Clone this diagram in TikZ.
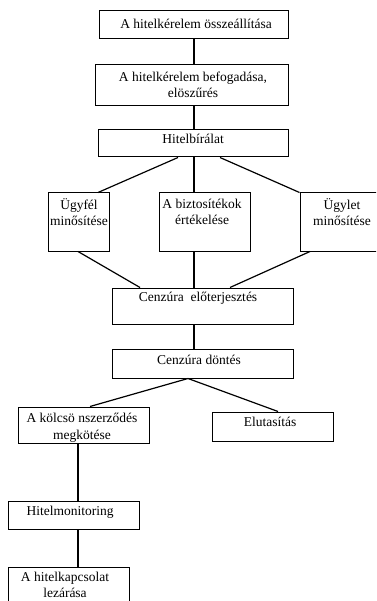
\documentclass[tikz,border=0pt]{standalone}
\usepackage{fontspec}
\setmainfont{Liberation Serif}
\newfontfamily\tnr{Liberation Serif}
\begin{document}
\begin{tikzpicture}[x=1pt,y=-1pt,
  box/.style={draw=black, line width=1pt, rectangle, inner sep=0pt},
  txt/.style={inner sep=0pt, align=center, font=\tnr\fontsize{13.5}{16.5}\selectfont},
  link/.style={draw=black, line width=1.2pt}]
\useasboundingbox (0,0) rectangle (376,601);
\clip (0,0) rectangle (376,601);
% boxes
\node[box, minimum width=189, minimum height=28] (b1) at (193.5,25) {};
\node[box, minimum width=193, minimum height=41] (b2) at (191.5,85.5) {};
\node[box, minimum width=190, minimum height=27] (b3) at (193,143.5) {};
\node[box, minimum width=61, minimum height=58] (b4) at (78.5,222) {};
\node[box, minimum width=91, minimum height=58] (b5) at (204.5,222) {};
\node[box, minimum width=85, minimum height=58] (b6) at (342.5,222) {};
\node[box, minimum width=181, minimum height=36] (b7) at (202.5,306) {};
\node[box, minimum width=181, minimum height=29] (b8) at (202.5,363.5) {};
\node[box, minimum width=131, minimum height=36] (b9) at (83.5,425) {};
\node[box, minimum width=121, minimum height=29] (b10) at (272.5,426.5) {};
\node[box, minimum width=131, minimum height=28] (b11) at (73.5,515) {};
\node[box, minimum width=121, minimum height=53] (b12) at (68.5,593.5) {};
% texts
\node[txt] (t1) at (196,24) {A hitelkérelem összeállítása};
\node[txt] (t2) at (193,85) {A hitelkérelem befogadása,\\elöszűrés};
\node[txt] (t3) at (193,139) {Hitelbírálat};
\node[txt] (t4) at (79,212) {Ügyfél\\minősítése};
\node[txt] (t5) at (202,212) {A biztosítékok\\értékelése};
\node[txt] (t6) at (342,212) {Ügylet\\minősítése};
\node[txt] (t7) at (198,298) {Cenzúra\ \ előterjesztés};
\node[txt] (t8) at (199,360) {Cenzúra döntés};
\node[txt] (t9) at (82,428) {A kölcsö nszerződés\\megkötése};
\node[txt] (t10) at (270,422) {Elutasítás};
\node[txt] (t11) at (70,512) {Hitelmonitoring};
\node[txt] (t12) at (65,585) {A hitelkapcsolat\\lezárása};
% connectors
\draw[link] ([xshift=0.5pt]b1.south) -- ([xshift=2.5pt]b2.north);
\draw[link] ([xshift=2.5pt]b2.south) -- ([xshift=1pt]b3.north);
\draw[link] ([xshift=-15pt]b3.south) -- ([xshift=19.5pt]b4.north);
\draw[link] ([xshift=1pt]b3.south) -- ([xshift=-10.5pt]b5.north);
\draw[link] ([xshift=27pt]b3.south) -- (b6.north west);
\draw[link] ([xshift=-0.5pt]b4.south) -- ([xshift=-62.5pt]b7.north);
\draw[link] ([xshift=-10.5pt]b5.south) -- ([xshift=-8.5pt]b7.north);
\draw[link] ([xshift=-32.5pt]b6.south) -- ([xshift=27.5pt]b7.north);
\draw[link] ([xshift=-8.5pt]b7.south) -- ([xshift=-8.5pt]b8.north);
\draw[link] ([xshift=-14.5pt]b8.south) -- ([xshift=6.5pt]b9.north);
\draw[link] ([xshift=-14.5pt]b8.south) -- ([xshift=5.5pt]b10.north);
\draw[link] ([xshift=-5.5pt]b9.south) -- ([xshift=4.5pt]b11.north);
\draw[link] ([xshift=4.5pt]b11.south) -- ([xshift=9.5pt]b12.north);
\end{tikzpicture}
\end{document}
